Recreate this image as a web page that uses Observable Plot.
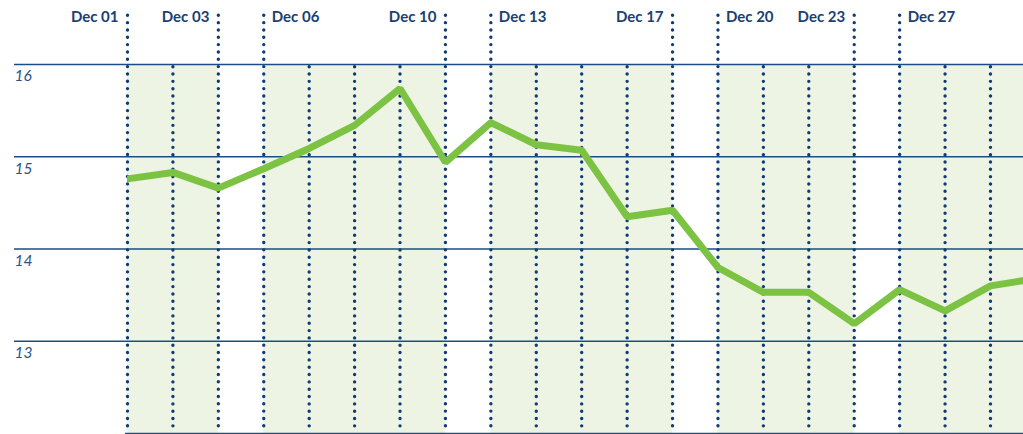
<!DOCTYPE html>
<html>
<head>
<meta charset="utf-8">
<script src="https://cdn.jsdelivr.net/npm/d3@7"></script>
<script src="https://cdn.jsdelivr.net/npm/@observablehq/plot@0.6"></script>
<style>
  html, body { margin: 0; padding: 0; background: #fff; overflow: hidden; }
</style>
</head>
<body>
<div id="chart"></div>
<script>
// Trading days shown (Dec 2021) and the series value for each
const dates = [
  "2021-12-01","2021-12-02","2021-12-03",
  "2021-12-06","2021-12-07","2021-12-08","2021-12-09","2021-12-10",
  "2021-12-13","2021-12-14","2021-12-15","2021-12-16","2021-12-17",
  "2021-12-20","2021-12-21","2021-12-22","2021-12-23",
  "2021-12-27","2021-12-28","2021-12-29","2021-12-30"
];
const values = [
  14.76, 14.83, 14.66,
  14.87, 15.09, 15.34, 15.74, 14.94,
  15.37, 15.13, 15.07, 14.35, 14.42,
  13.80, 13.53, 13.53, 13.19,
  13.56, 13.33, 13.60, 13.68
];
const yTicks = [13, 14, 15, 16];
const yDomain = [12, 16];
const visibleDays = 19.727; // visible extent of the day index axis

const parse = d3.utcParse("%Y-%m-%d");
const fmt = d3.utcFormat("%b %d");
const data = dates.map((d, i) => {
  const date = parse(d);
  return {i, date, v: values[i], label: fmt(date), week: +d3.utcMonday.floor(date)};
});

// weeks: first and last trading day of each week
const weeks = d3.groups(data, d => d.week).map(([, rows]) => ({
  first: rows[0], last: rows[rows.length - 1]
}));
const boundarySet = new Set();
weeks.forEach(w => { boundarySet.add(w.first.i); boundarySet.add(w.last.i); });
const boundary = data.filter(d => boundarySet.has(d.i) && d.i <= visibleDays);
const inner = data.filter(d => !boundarySet.has(d.i));
const labelsStart = boundary.filter(d => d.date.getUTCDay() === 1);
const labelsEnd = boundary.filter(d => d.date.getUTCDay() !== 1);

const navy = "#0e3b76";
const textNavy = "#1b3f72";
const labelFont = {fill: textNavy, fontSize: 15, fontWeight: "bold", fontFamily: "Lato", lineAnchor: "middle"};

const chart = Plot.plot({
  width: 1023,
  height: 434,
  marginLeft: 127,
  marginRight: 0,
  marginTop: 64,
  marginBottom: 1,
  style: {background: "white", overflow: "hidden"},
  x: {type: "linear", domain: [0, visibleDays], axis: null},
  y: {domain: yDomain, axis: null},
  marks: [
    Plot.rect(weeks, {x1: d => d.first.i, x2: d => d.last.i, y1: yDomain[0], y2: yDomain[1], fill: "#eef4e4", clip: true}),
    Plot.ruleY(yTicks, {stroke: "#1d4a88", strokeWidth: 1.3, insetLeft: -113}),
    Plot.ruleY([yDomain[0]], {stroke: "#1d4a88", strokeWidth: 1.5, insetLeft: -2}),
    Plot.ruleX(inner, {x: "i", y1: yDomain[1], y2: yDomain[0], stroke: navy, strokeWidth: 3.4,
      strokeDasharray: "0 7.33", strokeLinecap: "round", insetTop: 2.7, insetBottom: 2}),
    Plot.ruleX(boundary, {x: "i", y1: yDomain[1], y2: yDomain[0], stroke: navy, strokeWidth: 3.4,
      strokeDasharray: "0 7.33", strokeLinecap: "round", insetTop: -48.7, insetBottom: 2}),
    Plot.line(data, {x: "i", y: "v", stroke: "#7cc243", strokeWidth: 7, strokeLinejoin: "miter", clip: true}),
    Plot.text(yTicks, {y: d => d, frameAnchor: "left", dx: -113, dy: 12, textAnchor: "start", lineAnchor: "middle",
      text: d => String(d), fill: "#2a5489", fontSize: 15.5, fontStyle: "italic", fontFamily: "Lato"}),
    Plot.text(labelsEnd, {x: "i", frameAnchor: "top", dy: -47, textAnchor: "end", dx: -9, text: "label", ...labelFont}),
    Plot.text(labelsStart, {x: "i", frameAnchor: "top", dy: -47, textAnchor: "start", dx: 8, text: "label", ...labelFont})
  ]
});
document.getElementById("chart").appendChild(chart);
</script>
</body>
</html>
